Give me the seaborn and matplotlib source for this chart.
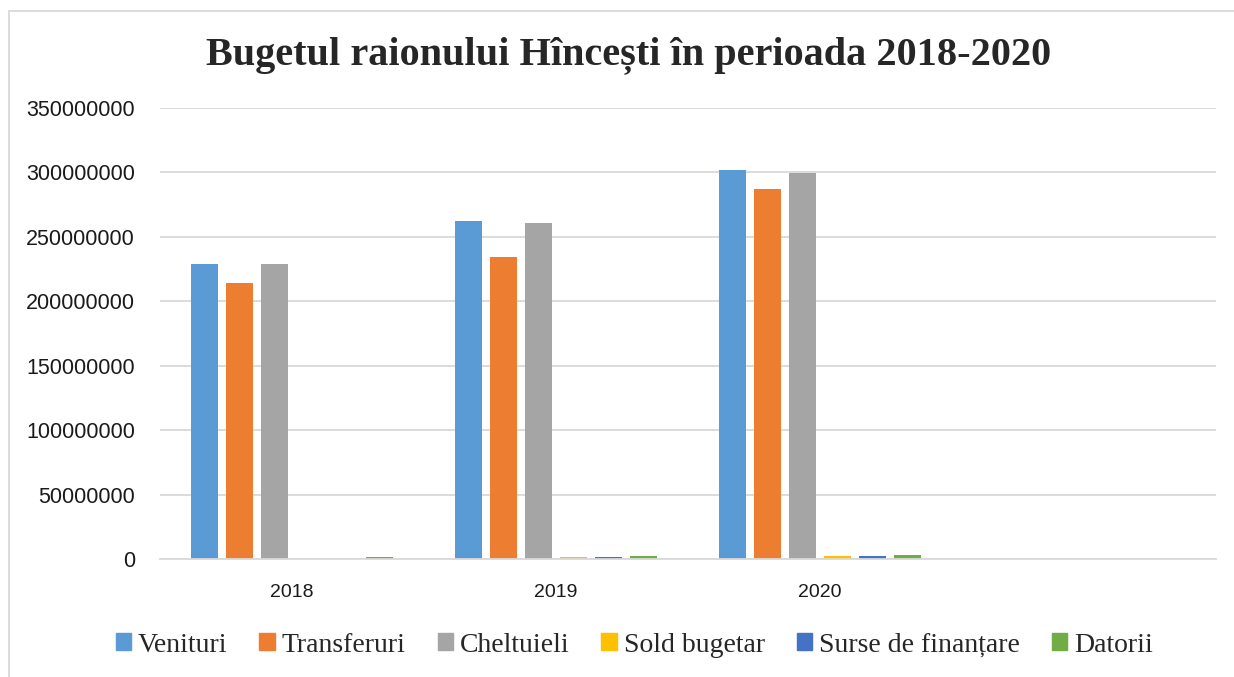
import matplotlib
matplotlib.use("Agg")
import matplotlib.pyplot as plt
import seaborn as sns
import pandas as pd
from matplotlib.lines import Line2D

years = ["2018", "2019", "2020"]
series = ["Venituri", "Transferuri", "Cheltuieli", "Sold bugetar", "Surse de finanțare", "Datorii"]
venituri = [229_000_000, 262_000_000, 302_000_000]
transferuri = [214_000_000, 234_000_000, 287_000_000]
cheltuieli = [229_000_000, 261_000_000, 299_500_000]
sold_bugetar = [0, 1_500_000, 2_000_000]
surse_finantare = [0, 1_500_000, 2_000_000]
datorii = [1_500_000, 2_500_000, 3_000_000]
yticks = [0, 50_000_000, 100_000_000, 150_000_000, 200_000_000, 250_000_000, 300_000_000, 350_000_000]
colors = ["#5B9BD5", "#ED7D31", "#A5A5A5", "#FFC000", "#4472C4", "#70AD47"]

values = [venituri, transferuri, cheltuieli, sold_bugetar, surse_finantare, datorii]
rows = []
for s, vals in zip(series, values):
    for y, v in zip(years, vals):
        rows.append({"An": y, "Serie": s, "Valoare": v})
df = pd.DataFrame(rows)

sns.set_theme(style="white")
fig = plt.figure(figsize=(12.34, 6.77), dpi=100)
ax = fig.add_axes([0.1297, 0.1743, 0.8557, 0.6662])

sns.barplot(data=df, x="An", y="Valoare", hue="Serie", order=years, hue_order=series,
            palette=colors, saturation=1, width=0.794, gap=0.23, linewidth=0, errorbar=None,
            legend=False, ax=ax)

ax.set_xlim(-0.5, 3.5)
ax.set_ylim(0, 350_000_000)
ax.set_yticks(yticks)
ax.set_yticklabels([str(t) for t in yticks], fontsize=15.5, family="Liberation Sans", color="#1a1a1a")
ax.set_xticks(range(len(years)))
ax.set_xticklabels(years, fontsize=14, family="Liberation Sans", color="#1a1a1a")
ax.set_xlabel("")
ax.set_ylabel("")
ax.tick_params(axis="y", length=0, pad=18)
ax.tick_params(axis="x", length=0, pad=18)
ax.grid(axis="y", color="#D9D9D9", linewidth=1.3)
ax.set_axisbelow(True)
for sp in ["top", "right", "left"]:
    ax.spines[sp].set_visible(False)
ax.spines["bottom"].set_color("#D9D9D9")
ax.spines["bottom"].set_linewidth(1.3)

fig.text(0.509, 0.918, "Bugetul raionului Hîncești în perioada 2018-2020",
         ha="center", va="center", fontsize=29, fontweight="bold", family="Liberation Serif")

handles = [plt.Rectangle((0, 0), 1, 1, color=c) for c in colors]
fig.legend(handles, series, loc="center", bbox_to_anchor=(0.514, 0.047), ncol=6, frameon=False,
           prop={"family": "Liberation Serif", "size": 20}, handlelength=0.55, handleheight=0.55,
           handletextpad=0.25, columnspacing=1.15)

# outer border
fig.add_artist(Line2D([9/1234, 9/1234], [0, 1 - 11/677], transform=fig.transFigure, color="#D9D9D9", linewidth=1.3))
fig.add_artist(Line2D([9/1234, 1], [1 - 11/677, 1 - 11/677], transform=fig.transFigure, color="#D9D9D9", linewidth=1.3))

fig.savefig("out.png", dpi=100)
